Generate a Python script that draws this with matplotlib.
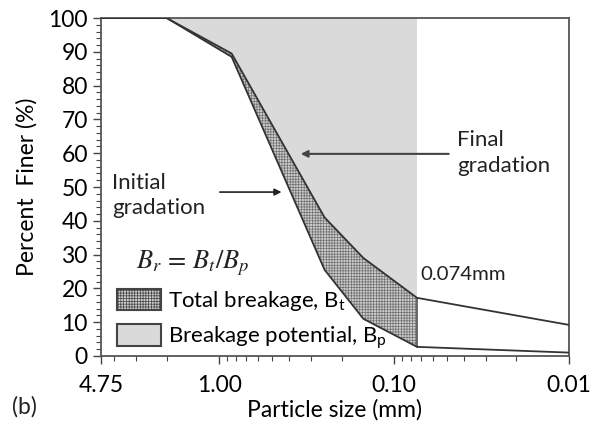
import numpy as np
import matplotlib
matplotlib.use("Agg")
import matplotlib.pyplot as plt
from matplotlib.patches import Patch
from matplotlib.ticker import FixedLocator, NullFormatter, MultipleLocator

plt.rcParams['font.family'] = ['Lato', 'DejaVu Sans']
plt.rcParams['mathtext.fontset'] = 'stix'
plt.rcParams['hatch.linewidth'] = 0.5

# sieve sizes (mm) and percent finer
sieve = [4.75, 2.0, 0.85, 0.25, 0.15, 0.074, 0.01]
initial = [100, 100, 88.5, 25.5, 11, 2.7, 1.0]
final = [100, 100, 89.5, 41, 29, 17.2, 9.2]
d_cut = 0.074

xticks = [4.75, 1.0, 0.1, 0.01]
xticklabels = ["4.75", "1.00", "0.10", "0.01"]

sieve = np.array(sieve)
initial = np.array(initial)
final = np.array(final)

fig = plt.figure(figsize=(5.92, 4.25), dpi=100)
ax = fig.add_axes([0.1706, 0.1624, 0.7905, 0.7952])

m = sieve >= d_cut
# breakage potential: above the initial curve, coarser than 0.074mm
ax.fill_between(sieve[m], final[m], 100, facecolor="#dadada", edgecolor="none", zorder=1)
# total breakage: between initial and final curves
ax.fill_between(sieve[m], initial[m], final[m], facecolor="#cccccc",
                edgecolor="#707070", hatch="++++++", linewidth=0, zorder=2)
ax.plot([d_cut, d_cut], [initial[m][-1], final[m][-1]], color="#555555", lw=1.2, zorder=3)

ax.plot(sieve, initial, color="#333333", lw=1.3, zorder=4)
ax.plot(sieve, final, color="#333333", lw=1.3, zorder=4)

ax.set_xscale("log")
ax.set_xlim(4.75, 0.01)
ax.set_ylim(0, 100)
ax.xaxis.set_major_locator(FixedLocator(xticks))
ax.set_xticklabels(xticklabels)
ax.xaxis.set_minor_formatter(NullFormatter())
ax.yaxis.set_major_locator(MultipleLocator(10))
ax.yaxis.set_minor_locator(MultipleLocator(2))

ax.tick_params(axis="both", which="major", labelsize=16.5, length=6, width=1, color="#444444")
ax.tick_params(axis="x", which="major", pad=8)
ax.tick_params(axis="both", which="minor", length=3.5, width=0.8, color="#444444")
for s in ax.spines.values():
    s.set_color("#555555")
    s.set_linewidth(1.3)

ax.set_xlabel("Particle size (mm)", fontsize=16.5, labelpad=2)
ax.set_ylabel("Percent  Finer (%)", fontsize=16.5, labelpad=8)

ax.annotate("", xy=(0.425, 48.5), xytext=(1.03, 48.5),
            arrowprops=dict(arrowstyle="-|>", color="#222222", lw=1.2, mutation_scale=10))
ax.text(4.1, 47.5, "Initial\ngradation", fontsize=16, va="center", ha="left", linespacing=1.35, color="#222222")

ax.annotate("", xy=(0.355, 59.8), xytext=(0.047, 59.8),
            arrowprops=dict(arrowstyle="-|>", color="#444444", lw=1.5, mutation_scale=10))
ax.text(0.0437, 60, "Final\ngradation", fontsize=16, va="center", ha="left", linespacing=1.35, color="#222222")

ax.text(0.0705, 24.0, "0.074mm", fontsize=14.7, ha="left", va="center", color="#222222")
ax.text(3.0, 27.5, r"$B_r\,=\,B_t/B_p$", fontsize=19, ha="left", va="center", color="#222222")

handles = [
    Patch(facecolor="#cccccc", edgecolor="#444444", hatch="++++++", lw=1.5,
          label=r"Total breakage, B$_\mathregular{t}$"),
    Patch(facecolor="#dadada", edgecolor="#444444", lw=1.5,
          label=r"Breakage potential, B$_\mathregular{p}$"),
]
ax.legend(handles=handles, loc="lower left", bbox_to_anchor=(0.0, -0.03), frameon=False,
          fontsize=16, handlelength=2.0, handleheight=1.1, handletextpad=0.3,
          labelspacing=0.5, borderaxespad=0.3)

fig.text(0.02, 0.018, "(b)", fontsize=16.5, ha="left", va="bottom", color="#222222")

fig.savefig("out.png", dpi=100)
